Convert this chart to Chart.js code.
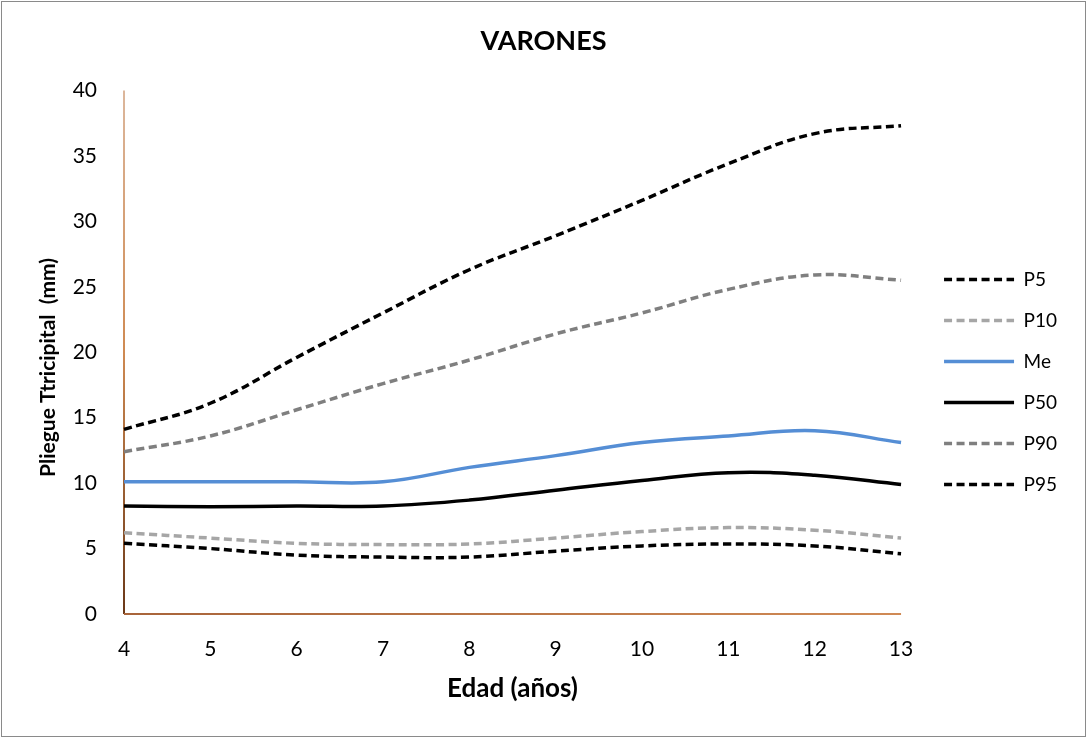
<!DOCTYPE html>
<html>
<head>
<meta charset="utf-8">
<script src="https://cdn.jsdelivr.net/npm/chart.js@4/dist/chart.umd.min.js"></script>
<style>
  html, body { margin: 0; padding: 0; background: #fff; }
  #c { display: block; }
</style>
</head>
<body>
<canvas id="c" width="1087" height="738"></canvas>
<script>
const edades = ['4', '5', '6', '7', '8', '9', '10', '11', '12', '13'];
const p5  = [5.4, 5.0, 4.5, 4.35, 4.35, 4.8, 5.2, 5.35, 5.2, 4.6];
const p10 = [6.2, 5.8, 5.4, 5.3, 5.35, 5.8, 6.3, 6.6, 6.4, 5.8];
const me  = [10.1, 10.1, 10.1, 10.1, 11.2, 12.1, 13.1, 13.6, 14.0, 13.1];
const p50 = [8.25, 8.2, 8.25, 8.25, 8.7, 9.45, 10.2, 10.8, 10.6, 9.9];
const p90 = [12.4, 13.6, 15.6, 17.6, 19.4, 21.4, 23.0, 24.8, 25.9, 25.5];
const p95 = [14.1, 16.1, 19.6, 23.0, 26.3, 28.9, 31.6, 34.4, 36.7, 37.3];
const yTicks = [0, 5, 10, 15, 20, 25, 30, 35, 40];

const FONT = 'Lato, "Open Sans", sans-serif';

function ds(label, data, color, dash) {
  return {
    label, data,
    borderColor: color, backgroundColor: color,
    borderWidth: 3.5, borderDash: dash || [],
    borderCapStyle: 'butt',
    pointRadius: 0, pointHoverRadius: 0,
    tension: 0.4, fill: false
  };
}

const axisPlugin = {
  id: 'axisLines',
  beforeDatasetsDraw(chart) {
    const {ctx, chartArea: a} = chart;
    ctx.save();
    const g = ctx.createLinearGradient(0, a.top, 0, a.bottom);
    g.addColorStop(0, '#dcb79c');
    g.addColorStop(0.5, '#cf8a52');
    g.addColorStop(1, '#6a3818');
    ctx.strokeStyle = g;
    ctx.lineWidth = 2;
    ctx.beginPath();
    ctx.moveTo(a.left, a.top);
    ctx.lineTo(a.left, a.bottom);
    ctx.stroke();
    const h = ctx.createLinearGradient(a.left, 0, a.right, 0);
    h.addColorStop(0, '#a8643a');
    h.addColorStop(1, '#d08a55');
    ctx.strokeStyle = h;
    ctx.beginPath();
    ctx.moveTo(a.left, a.bottom);
    ctx.lineTo(a.right, a.bottom);
    ctx.stroke();
    ctx.restore();
  },
  afterDraw(chart) {
    const {ctx} = chart;
    ctx.save();
    ctx.strokeStyle = '#8a8a8a';
    ctx.lineWidth = 1;
    ctx.strokeRect(1.5, 1.5, chart.width - 3, chart.height - 3);
    ctx.restore();
  }
};

new Chart(document.getElementById('c'), {
  type: 'line',
  data: {
    labels: edades,
    datasets: [
      ds('P5', p5, '#000000', [8, 4.5]),
      ds('P10', p10, '#a6a6a6', [8, 4.5]),
      ds('Me', me, '#558ed5'),
      ds('P50', p50, '#000000'),
      ds('P90', p90, '#7f7f7f', [8, 4.5]),
      ds('P95', p95, '#000000', [8, 4.5])
    ]
  },
  plugins: [axisPlugin],
  options: {
    responsive: false,
    animation: false,
    layout: { padding: { top: 10, left: 20, right: 20, bottom: 34 } },
    plugins: {
      title: {
        display: true, text: 'VARONES', color: '#000',
        font: { family: FONT, size: 27, weight: 'bold' },
        padding: { top: 15, bottom: 33 }
      },
      legend: {
        position: 'right', align: 'center',
        title: { display: true, text: ' ', font: { size: 10 }, padding: { top: 38, bottom: 0 } },
        labels: {
          usePointStyle: true, pointStyle: 'line', pointStyleWidth: 70,
          boxHeight: 19,
          color: '#000', padding: 22,
          font: { family: FONT, size: 19 },
          generateLabels(chart) {
            const items = Chart.defaults.plugins.legend.labels.generateLabels(chart);
            items.forEach(it => {
              const d = chart.data.datasets[it.datasetIndex];
              it.lineDash = d.borderDash;
              it.lineWidth = 3.5;
              it.strokeStyle = d.borderColor;
              it.lineCap = 'butt';
            });
            return items;
          }
        }
      },
      tooltip: { enabled: false }
    },
    scales: {
      x: {
        type: 'category', offset: false,
        grid: { display: false, drawTicks: false },
        border: { display: false },
        ticks: { color: '#000', padding: 23, font: { family: FONT, size: 21 }, maxRotation: 0 },
        title: { display: true, text: 'Edad (años)', color: '#000',
                 font: { family: FONT, size: 26, weight: 'bold' }, padding: { top: 0, bottom: 0 } },
        afterFit(scale) { scale.height = 90; }
      },
      y: {
        min: 0, max: 40,
        afterBuildTicks(scale) { scale.ticks = yTicks.map(v => ({ value: v })); },
        grid: { display: false, drawTicks: false },
        border: { display: false },
        ticks: { color: '#000', padding: 27, font: { family: FONT, size: 21 } },
        title: { display: true, text: 'Pliegue Ttricipital  (mm)      ', color: '#000',
                 font: { family: FONT, size: 21, weight: 'bold' }, padding: { top: 16, bottom: 0 } },
        afterFit(scale) { scale.width = 104; }
      },
      y2: {
        position: 'right', display: true,
        grid: { display: false, drawTicks: false }, border: { display: false },
        ticks: { display: false },
        afterFit(scale) { scale.width = 21; }
      }
    }
  }
});
</script>
</body>
</html>
